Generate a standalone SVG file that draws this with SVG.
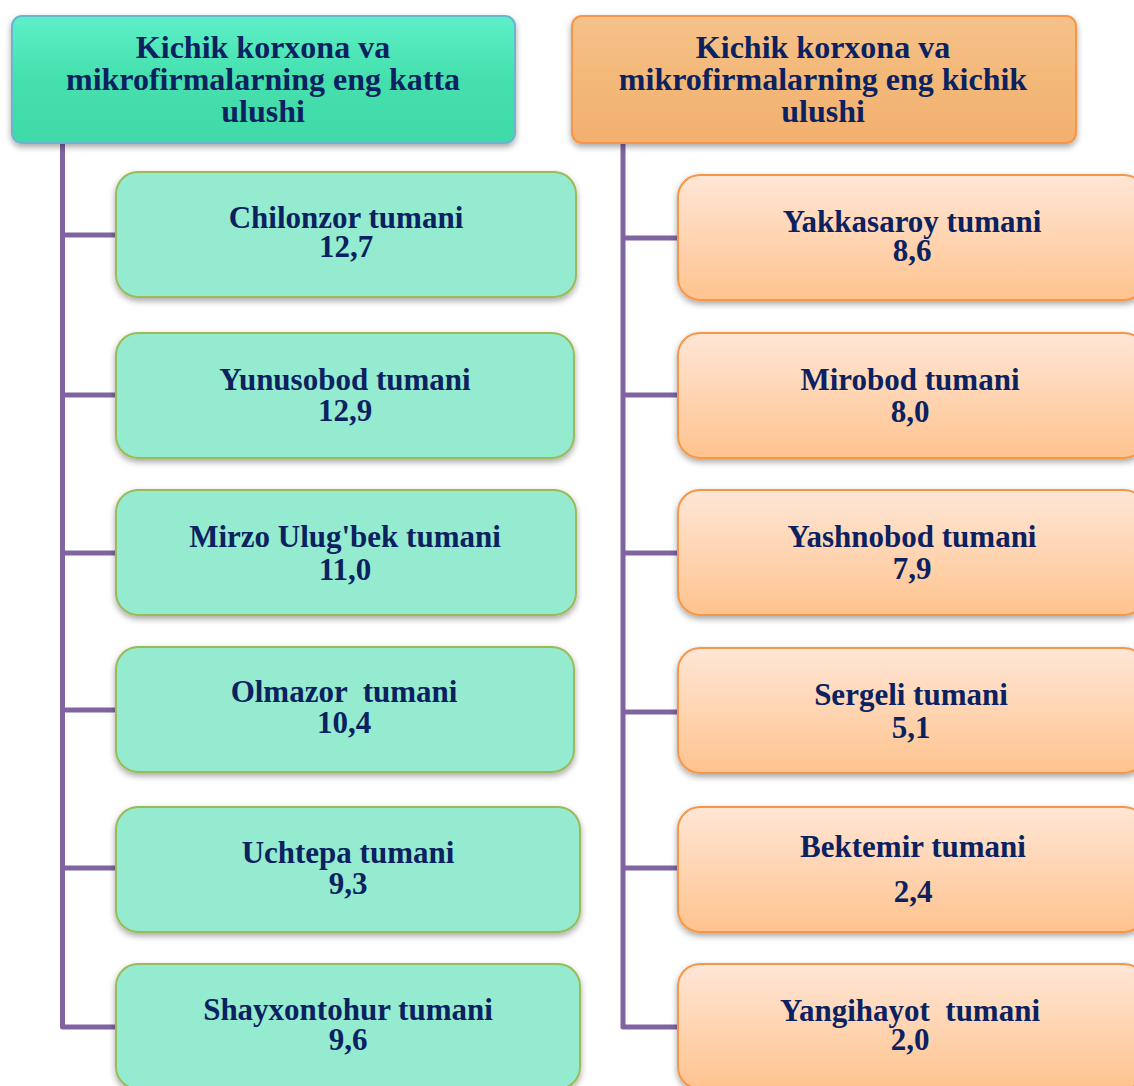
<svg xmlns="http://www.w3.org/2000/svg" width="1134" height="1086" viewBox="0 0 1134 1086">
<defs>
<linearGradient id="gHeadL" x1="0" y1="0" x2="0" y2="1">
<stop offset="0" stop-color="#5EF0C8"/><stop offset="0.5" stop-color="#45DFAD"/><stop offset="1" stop-color="#40DAA8"/>
</linearGradient>
<linearGradient id="gHeadR" x1="0" y1="0" x2="0" y2="1">
<stop offset="0" stop-color="#F6C28A"/><stop offset="0.5" stop-color="#F3B878"/><stop offset="1" stop-color="#F2B070"/>
</linearGradient>
<linearGradient id="gOrange" x1="0" y1="0" x2="0" y2="1">
<stop offset="0" stop-color="#FFE6D6"/><stop offset="1" stop-color="#FFC38E"/>
</linearGradient>
<filter id="sh" x="-5%" y="-10%" width="110%" height="125%">
<feDropShadow dx="0" dy="3" stdDeviation="3" flood-color="#000" flood-opacity="0.35"/>
</filter>
</defs>
<style>
.t{font-family:"Liberation Serif","Times New Roman",serif;font-weight:bold;fill:#0B2160;text-anchor:middle;white-space:pre}
.h{font-size:32px}
.b{font-size:31px}
.green{fill:#94EBCF;stroke:#9BBB59;stroke-width:2}
.orange{fill:url(#gOrange);stroke:#F79646;stroke-width:2}
.conn{fill:none;stroke:#8064A2;stroke-width:5;stroke-linejoin:round}
</style>
<rect width="1134" height="1086" fill="#fff"/>
<g id="connectors">
<path class="conn" d="M62.5 143 V1027 H118"/>
<path class="conn" d="M62.5 235 H118 M62.5 395 H118 M62.5 553 H118 M62.5 710 H118 M62.5 868 H118"/>
<path class="conn" d="M623 143 V1027 H680"/>
<path class="conn" d="M623 238 H680 M623 395 H680 M623 553 H680 M623 712 H680 M623 868 H680"/>
</g>
<g id="headerLeft">
<rect x="12" y="16" width="503" height="127" rx="10" fill="url(#gHeadL)" stroke="#66B7CF" stroke-width="2" filter="url(#sh)"/>
<text class="t h" x="263" y="58">Kichik korxona va</text>
<text class="t h" x="263" y="90">mikrofirmalarning eng katta</text>
<text class="t h" x="263" y="122">ulushi</text>
</g>
<g id="headerRight">
<rect x="572" y="16" width="504" height="127" rx="10" fill="url(#gHeadR)" stroke="#F79646" stroke-width="2" filter="url(#sh)"/>
<text class="t h" x="823" y="58">Kichik korxona va</text>
<text class="t h" x="823" y="90">mikrofirmalarning eng kichik</text>
<text class="t h" x="823" y="122">ulushi</text>
</g>
<g id="chilonzor">
<rect class="green" x="116" y="172" width="460" height="125" rx="22" filter="url(#sh)"/>
<text class="t b" x="346" y="228">Chilonzor tumani</text>
<text class="t b" x="346" y="257">12,7</text>
</g>
<g id="yunusobod">
<rect class="green" x="116" y="333" width="458" height="125" rx="22" filter="url(#sh)"/>
<text class="t b" x="345" y="390">Yunusobod tumani</text>
<text class="t b" x="345" y="421">12,9</text>
</g>
<g id="mirzoulugbek">
<rect class="green" x="116" y="490" width="460" height="125" rx="22" filter="url(#sh)"/>
<text class="t b" x="345" y="547">Mirzo Ulug'bek tumani</text>
<text class="t b" x="345" y="580">11,0</text>
</g>
<g id="olmazor">
<rect class="green" x="116" y="647" width="458" height="125" rx="22" filter="url(#sh)"/>
<text class="t b" x="344" y="702">Olmazor  tumani</text>
<text class="t b" x="344" y="733">10,4</text>
</g>
<g id="uchtepa">
<rect class="green" x="116" y="807" width="464" height="125" rx="22" filter="url(#sh)"/>
<text class="t b" x="348" y="863">Uchtepa tumani</text>
<text class="t b" x="348" y="894">9,3</text>
</g>
<g id="shayxontohur">
<rect class="green" x="116" y="964" width="464" height="125" rx="22" filter="url(#sh)"/>
<text class="t b" x="348" y="1020">Shayxontohur tumani</text>
<text class="t b" x="348" y="1050">9,6</text>
</g>
<g id="yakkasaroy">
<rect class="orange" x="678" y="175" width="468" height="125" rx="22" filter="url(#sh)"/>
<text class="t b" x="912" y="232">Yakkasaroy tumani</text>
<text class="t b" x="912" y="261">8,6</text>
</g>
<g id="mirobod">
<rect class="orange" x="678" y="333" width="468" height="125" rx="22" filter="url(#sh)"/>
<text class="t b" x="910" y="390">Mirobod tumani</text>
<text class="t b" x="910" y="422">8,0</text>
</g>
<g id="yashnobod">
<rect class="orange" x="678" y="490" width="468" height="125" rx="22" filter="url(#sh)"/>
<text class="t b" x="912" y="547">Yashnobod tumani</text>
<text class="t b" x="912" y="579">7,9</text>
</g>
<g id="sergeli">
<rect class="orange" x="678" y="648" width="468" height="125" rx="22" filter="url(#sh)"/>
<text class="t b" x="911" y="705">Sergeli tumani</text>
<text class="t b" x="911" y="738">5,1</text>
</g>
<g id="bektemir">
<rect class="orange" x="678" y="807" width="468" height="125" rx="22" filter="url(#sh)"/>
<text class="t b" x="913" y="857">Bektemir tumani</text>
<text class="t b" x="913" y="902">2,4</text>
</g>
<g id="yangihayot">
<rect class="orange" x="678" y="964" width="468" height="125" rx="22" filter="url(#sh)"/>
<text class="t b" x="910" y="1021">Yangihayot  tumani</text>
<text class="t b" x="910" y="1050">2,0</text>
</g>
</svg>
